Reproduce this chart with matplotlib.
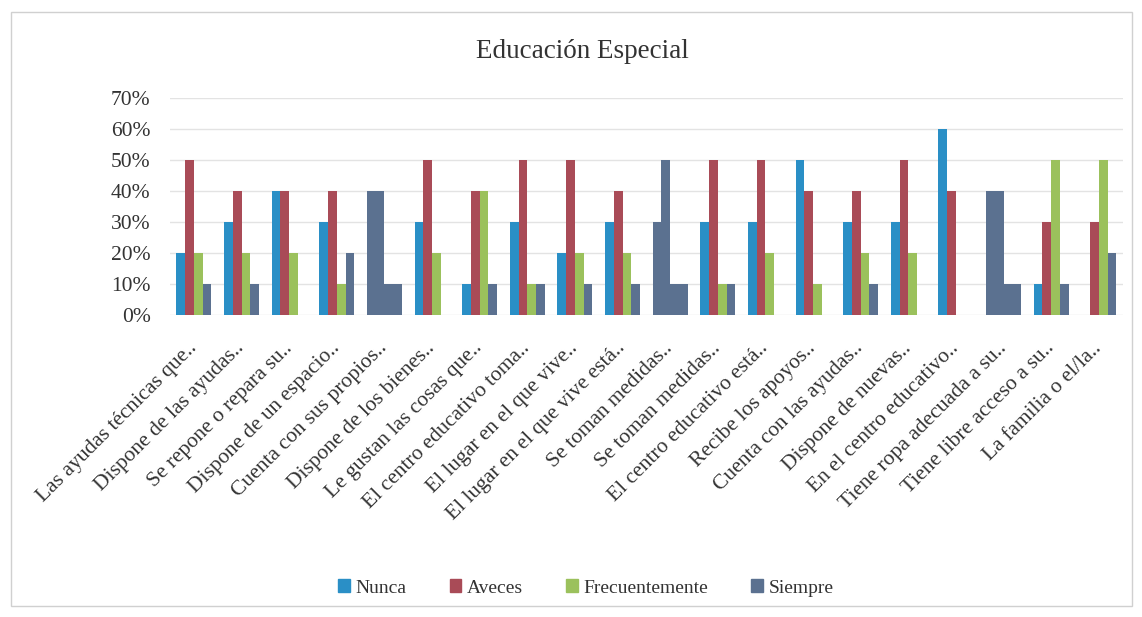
import numpy as np
import matplotlib.pyplot as plt
from matplotlib.patches import Rectangle

plt.rcParams['font.family'] = ['Liberation Serif', 'DejaVu Serif']

categories = [
    "Las ayudas técnicas que..", "Dispone de las ayudas..", "Se repone o repara su..",
    "Dispone de un espacio..", "Cuenta con sus propios..", "Dispone de los bienes..",
    "Le gustan las cosas que..", "El centro educativo toma..", "El lugar en el que vive..",
    "El lugar en el que vive está..", "Se toman medidas..", "Se toman medidas..",
    "El centro educativo está..", "Recibe los apoyos..", "Cuenta con las ayudas..",
    "Dispone de nuevas..", "En el centro educativo..", "Tiene ropa adecuada a su..",
    "Tiene libre acceso a su..", "La familia o el/la..",
]
series_names = ["Nunca", "Aveces", "Frecuentemente", "Siempre"]
nunca = [0.20, 0.30, 0.40, 0.30, 0.40, 0.30, 0.10, 0.30, 0.20, 0.30,
         0.30, 0.30, 0.30, 0.50, 0.30, 0.30, 0.60, 0.40, 0.10, 0.00]
aveces = [0.50, 0.40, 0.40, 0.40, 0.40, 0.50, 0.40, 0.50, 0.50, 0.40,
          0.50, 0.50, 0.50, 0.40, 0.40, 0.50, 0.40, 0.40, 0.30, 0.30]
frecuentemente = [0.20, 0.20, 0.20, 0.10, 0.10, 0.20, 0.40, 0.10, 0.20, 0.20,
                  0.10, 0.10, 0.20, 0.10, 0.20, 0.20, 0.00, 0.10, 0.50, 0.50]
siempre = [0.10, 0.10, 0.00, 0.20, 0.10, 0.00, 0.10, 0.10, 0.10, 0.10,
           0.10, 0.10, 0.00, 0.00, 0.10, 0.00, 0.00, 0.10, 0.10, 0.20]

colors = ["#2A8FC6", "#A94B57", "#9BC15C", "#5B7190"]
# groups printed entirely in the dark tone
dark_groups = [4, 10, 17]

fig = plt.figure(figsize=(11.42, 6.17), dpi=100)
ax = fig.add_axes([0.149, 0.4895, 0.834, 0.352])

x = np.arange(len(categories))
width = 0.184
values = [nunca, aveces, frecuentemente, siempre]
for i, (name, vals) in enumerate(zip(series_names, values)):
    bar_colors = [colors[3] if j in dark_groups else colors[i] for j in range(len(categories))]
    ax.bar(x + (i - 1.5) * width, vals, width, color=bar_colors, label=name, zorder=3)

ax.set_xlim(-0.5, len(categories) - 0.5)
ax.set_ylim(0, 0.7)
ax.set_yticks(np.arange(0, 0.71, 0.1))
ax.set_yticklabels(["%d%%" % round(v * 100) for v in np.arange(0, 0.71, 0.1)],
                   fontsize=15.5, color="#333333")
ax.grid(axis="y", color="#E3E3E3", linewidth=1, zorder=0)
for s in ax.spines.values():
    s.set_visible(False)
ax.tick_params(axis="both", length=0)
ax.tick_params(axis="y", pad=14)

ax.set_xticks(x)
ax.set_xticklabels(categories, rotation=45, ha="right", va="center",
                   rotation_mode="anchor", fontsize=15.5, color="#333333")
ax.tick_params(axis="x", pad=22)

fig.text(0.51, 0.916, "Educación Especial", ha="center", va="center",
         fontsize=19.5, color="#333333")

handles = [Rectangle((0, 0), 1, 1, color=c) for c in colors]
fig.legend(handles, series_names, loc="center", bbox_to_anchor=(0.513, 0.047),
           ncol=4, frameon=False, fontsize=14, handlelength=0.6, handleheight=0.6,
           handletextpad=0.3, columnspacing=2.2, labelcolor="#333333")

fig.patches.append(Rectangle((0.01, 0.018), 0.981, 0.963, transform=fig.transFigure,
                             fill=False, edgecolor="#D0D0D0", linewidth=1))

plt.savefig("out.png", dpi=100)
